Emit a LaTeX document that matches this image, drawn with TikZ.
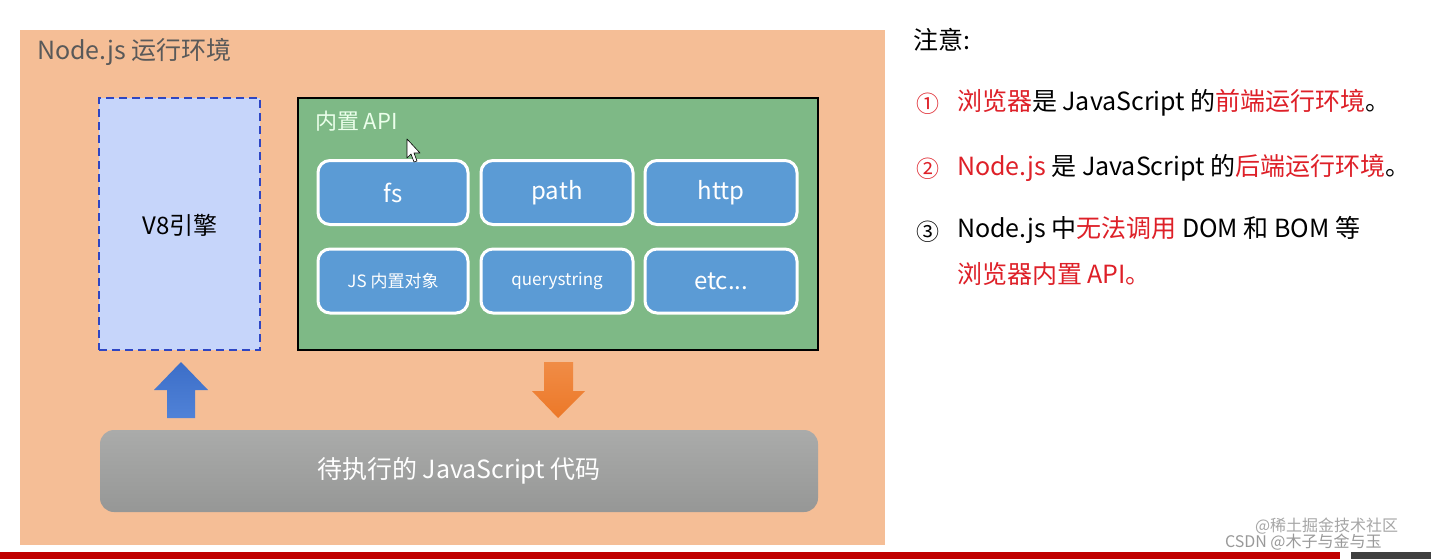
\documentclass[tikz,border=0pt]{standalone}
\usepackage{fontspec}
\setmainfont{Noto Sans CJK SC}
\definecolor{panel}{RGB}{245,190,150}
\definecolor{veight}{RGB}{198,213,250}
\definecolor{veightborder}{RGB}{46,70,195}
\definecolor{apigreen}{RGB}{126,185,134}
\definecolor{btnblue}{RGB}{91,155,213}
\definecolor{titlegray}{RGB}{89,89,89}
\definecolor{notered}{RGB}{222,32,40}
\definecolor{bartop}{RGB}{170,171,170}
\definecolor{barbot}{RGB}{150,151,150}
\definecolor{upblue}{RGB}{60,110,200}
\definecolor{upblue2}{RGB}{80,130,215}
\definecolor{downorange}{RGB}{236,120,40}
\definecolor{downorange2}{RGB}{240,140,70}
\definecolor{barred}{RGB}{192,0,0}
\definecolor{bardark}{RGB}{64,64,64}
\begin{document}
\begin{tikzpicture}[x=1pt,y=-1pt,
  every node/.style={inner sep=0pt,outer sep=0pt},
  btn/.style={draw=white,line width=3pt,fill=btnblue,rounded corners=12pt,
    minimum height=64pt,text=white,font=\fontsize{24}{24}\selectfont},
  smallbtn/.style={btn,font=\fontsize{17}{17}\selectfont},
  note/.style={anchor=west,font=\fontsize{25}{25}\selectfont,text=black},
  red/.style={text=notered}
]
\useasboundingbox (0,0) rectangle (1431,559);
\fill[white] (0,0) rectangle (1431,559);
% panel
\node[fill=panel,minimum width=865pt,minimum height=515pt,anchor=north west] (panel) at (20,30) {};
\node[anchor=west,text=titlegray,font=\fontsize{25}{25}\selectfont] (title) at (37,52) {Node.js 运行环境};
% V8
\node[fill=veight,draw=veightborder,line width=2.2pt,dash pattern=on 8pt off 5pt,
  minimum width=161pt,minimum height=252pt,anchor=north west] (v8) at (99,98) {};
\node[font=\fontsize{24}{24}\selectfont,text=black] (v8t) at (180,225) {V8引擎};
% API box
\node[fill=apigreen,draw=black,line width=2pt,minimum width=520pt,minimum height=252pt,anchor=north west] (api) at (298,98) {};
\node[anchor=west,text=white!92!green,font=\fontsize{22}{22}\selectfont] (apit) at (315,121) {内置 API};
% buttons
\node[btn,minimum width=150pt] (fs) at (393,192.5) {fs};
\node[btn,minimum width=152pt] (path) at (557,192.5) {path};
\node[btn,minimum width=152pt] (http) at (721,192.5) {http};
\node[smallbtn,minimum width=150pt] (jsobj) at (393,281) {JS 内置对象};
\node[smallbtn,minimum width=152pt] (qs) at (557,281) {querystring};
\node[btn,minimum width=152pt] (etc) at (721,281) {etc...};
% cursor
\filldraw[fill=white,draw=black,line width=0.6pt,line join=round]
  (407,139) -- (407,158) -- (411,154) -- (414,162) -- (417,161) -- (414,153) -- (420,153) -- cycle;
% code bar
\node[rounded corners=14pt,top color=bartop,bottom color=barbot,
  minimum width=718pt,minimum height=82pt,anchor=north west] (code) at (100,430) {};
\node[text=white,font=\fontsize{25}{25}\selectfont] (codet) at (459,471) {待执行的 JavaScript 代码};
% block arrows
\shade[top color=upblue,bottom color=upblue2]
  (181,362) -- (208,390) -- (195,390) -- (195,418) -- (167,418) -- (167,390) -- (154,390) -- cycle;
\shade[top color=downorange2,bottom color=downorange]
  (544,362) -- (573,362) -- (573,391) -- (585,391) -- (558,418) -- (532,391) -- (544,391) -- cycle;
% notes
\node[note] (n0) at (913,40) {注意:};
\node[note,red,font=\fontsize{23}{23}\selectfont] (c1) at (916,104) {①};
\node[note] (l1) at (957,103) {\textcolor{notered}{浏览器}是 JavaScript 的\textcolor{notered}{前端运行环境}。};
\node[note,red,font=\fontsize{23}{23}\selectfont] (c2) at (916,169) {②};
\node[note] (l2) at (957,168) {\textcolor{notered}{Node.js} 是 JavaScript 的\textcolor{notered}{后端运行环境}。};
\node[note,font=\fontsize{23}{23}\selectfont] (c3) at (916,232) {③};
\node[note] (l3) at (957,230) {Node.js 中\textcolor{notered}{无法调用} DOM 和 BOM 等};
\node[note,red] (l4) at (957,274) {浏览器内置 API。};
% bottom bars
\fill[barred] (0,552) rectangle (1340,559);
\fill[bardark] (1351,552) rectangle (1431,559);
% watermark
\node[anchor=west,text=gray!70,font=\fontsize{16}{16}\selectfont] (wm1) at (1255,526) {@稀土掘金技术社区};
\node[anchor=west,text=gray!80,font=\fontsize{16}{16}\selectfont] (wm2) at (1225,542) {CSDN @木子与金与玉};
\end{tikzpicture}
\end{document}
